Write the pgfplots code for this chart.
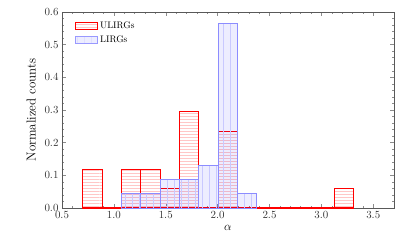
\documentclass[border=0pt]{standalone}
\usepackage{pgfplots}
\pgfplotsset{compat=1.18}
\usetikzlibrary{patterns}
\pgfdeclarepatternformonly{vlinesw}{\pgfqpoint{-1pt}{-1pt}}{\pgfqpoint{1pt}{100pt}}{\pgfqpoint{7pt}{100pt}}{%
  \pgfsetlinewidth{0.3pt}\pgfpathmoveto{\pgfqpoint{0pt}{0pt}}\pgfpathlineto{\pgfqpoint{0pt}{100pt}}\pgfusepath{stroke}}
\pgfdeclarepatternformonly{hlinesn}{\pgfqpoint{-1pt}{-1pt}}{\pgfqpoint{100pt}{1pt}}{\pgfqpoint{100pt}{3pt}}{%
  \pgfsetlinewidth{0.3pt}\pgfpathmoveto{\pgfqpoint{0pt}{0pt}}\pgfpathlineto{\pgfqpoint{100pt}{0pt}}\pgfusepath{stroke}}
\tikzset{
  ulirg/.style={draw=red, line width=1.1pt,
    preaction={pattern=hlinesn, pattern color=red!22}},
  lirg/.style={draw=blue!45, line width=0.9pt, fill=blue, fill opacity=0.07,
    preaction={pattern=vlinesw, pattern color=blue!15}},
  lirgleg/.style={draw=blue!40, line width=0.9pt, fill=blue!7,
    postaction={pattern=vlinesw, pattern color=blue!15}},
}
\begin{document}
\begin{tikzpicture}
\begin{axis}[
  at={(0,0)}, anchor=south west,
  scale only axis, width=332bp, height=196bp,
  xmin=0.5, xmax=3.7, ymin=0, ymax=0.6,
  xtick={0.5,1.0,1.5,2.0,2.5,3.0,3.5},
  ytick={0,0.1,0.2,0.3,0.4,0.5,0.6},
  minor x tick num=4, minor y tick num=4,
  tick align=inside,
  major tick length=4bp, minor tick length=2bp,
  every tick/.style={black!45, line width=0.5pt},
  axis line style={black!65, line width=0.8pt},
  tick label style={font=\fontsize{10.5}{12}\selectfont, black!80},
  xticklabel style={/pgf/number format/.cd, fixed, fixed zerofill, precision=1},
  yticklabel style={/pgf/number format/.cd, fixed, fixed zerofill, precision=1},
  xlabel={$\alpha$},
  ylabel={Normalized counts},
  xlabel style={font=\fontsize{13}{15}\selectfont},
  ylabel style={font=\fontsize{13}{15}\selectfont},
  ylabel shift=2bp,
  legend style={at={(0.03,0.97)}, anchor=north west, draw=none, fill=none,
    font=\fontsize{9.5}{11}\selectfont, row sep=2bp,
    /tikz/every even column/.append style={column sep=9bp}},
  legend cell align=left,
]
\addlegendimage{legend image code/.code={\draw[ulirg] (0bp,-3.5bp) rectangle (22bp,3.5bp);}}
\addlegendentry{ULIRGs}
\addlegendimage{legend image code/.code={\draw[lirgleg] (0bp,-3.5bp) rectangle (22bp,3.5bp);}}
\addlegendentry{LIRGs}
\addplot[ybar interval, ulirg, forget plot] coordinates {
 (0.7000,0.1176) (0.8865,0) (1.0730,0.1176) (1.2595,0.1176) (1.4460,0.0588)
 (1.6325,0.2941) (1.8190,0) (2.0055,0.2353) (2.1920,0) (2.3785,0)
 (2.5650,0) (2.7515,0) (2.9380,0) (3.1245,0.0588) (3.3110,0)};
\addplot[ybar interval, lirg, forget plot] coordinates {
 (1.0730,0.0435) (1.2595,0.0435) (1.4460,0.0870) (1.6325,0.0870)
 (1.8190,0.1304) (2.0055,0.5652) (2.1920,0.0435) (2.3785,0)};
\end{axis}
\path (-62bp,-34bp) rectangle (353bp,208bp);
\end{tikzpicture}
\end{document}
